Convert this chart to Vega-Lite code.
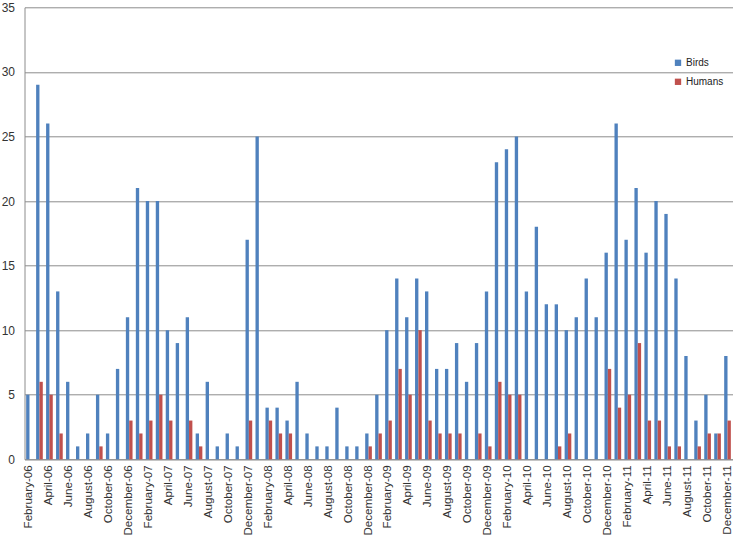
{
  "$schema": "https://vega.github.io/schema/vega-lite/v6.json",
  "autosize": "none",
  "width": 708,
  "height": 452,
  "padding": {"left": 24.5, "top": 7.3, "right": 3.5, "bottom": 75.7},
  "background": "white",
  "config": {
    "view": {"stroke": null},
    "font": "Liberation Sans"
  },
  "data": {
    "values": [
      {"m":"February-06","s":"Birds","v":5},{"m":"February-06","s":"Humans","v":0},
      {"m":"March-06","s":"Birds","v":29},{"m":"March-06","s":"Humans","v":6},
      {"m":"April-06","s":"Birds","v":26},{"m":"April-06","s":"Humans","v":5},
      {"m":"May-06","s":"Birds","v":13},{"m":"May-06","s":"Humans","v":2},
      {"m":"June-06","s":"Birds","v":6},{"m":"June-06","s":"Humans","v":0},
      {"m":"July-06","s":"Birds","v":1},{"m":"July-06","s":"Humans","v":0},
      {"m":"August-06","s":"Birds","v":2},{"m":"August-06","s":"Humans","v":0},
      {"m":"September-06","s":"Birds","v":5},{"m":"September-06","s":"Humans","v":1},
      {"m":"October-06","s":"Birds","v":2},{"m":"October-06","s":"Humans","v":0},
      {"m":"November-06","s":"Birds","v":7},{"m":"November-06","s":"Humans","v":0},
      {"m":"December-06","s":"Birds","v":11},{"m":"December-06","s":"Humans","v":3},
      {"m":"January-07","s":"Birds","v":21},{"m":"January-07","s":"Humans","v":2},
      {"m":"February-07","s":"Birds","v":20},{"m":"February-07","s":"Humans","v":3},
      {"m":"March-07","s":"Birds","v":20},{"m":"March-07","s":"Humans","v":5},
      {"m":"April-07","s":"Birds","v":10},{"m":"April-07","s":"Humans","v":3},
      {"m":"May-07","s":"Birds","v":9},{"m":"May-07","s":"Humans","v":0},
      {"m":"June-07","s":"Birds","v":11},{"m":"June-07","s":"Humans","v":3},
      {"m":"July-07","s":"Birds","v":2},{"m":"July-07","s":"Humans","v":1},
      {"m":"August-07","s":"Birds","v":6},{"m":"August-07","s":"Humans","v":0},
      {"m":"September-07","s":"Birds","v":1},{"m":"September-07","s":"Humans","v":0},
      {"m":"October-07","s":"Birds","v":2},{"m":"October-07","s":"Humans","v":0},
      {"m":"November-07","s":"Birds","v":1},{"m":"November-07","s":"Humans","v":0},
      {"m":"December-07","s":"Birds","v":17},{"m":"December-07","s":"Humans","v":3},
      {"m":"January-08","s":"Birds","v":25},{"m":"January-08","s":"Humans","v":0},
      {"m":"February-08","s":"Birds","v":4},{"m":"February-08","s":"Humans","v":3},
      {"m":"March-08","s":"Birds","v":4},{"m":"March-08","s":"Humans","v":2},
      {"m":"April-08","s":"Birds","v":3},{"m":"April-08","s":"Humans","v":2},
      {"m":"May-08","s":"Birds","v":6},{"m":"May-08","s":"Humans","v":0},
      {"m":"June-08","s":"Birds","v":2},{"m":"June-08","s":"Humans","v":0},
      {"m":"July-08","s":"Birds","v":1},{"m":"July-08","s":"Humans","v":0},
      {"m":"August-08","s":"Birds","v":1},{"m":"August-08","s":"Humans","v":0},
      {"m":"September-08","s":"Birds","v":4},{"m":"September-08","s":"Humans","v":0},
      {"m":"October-08","s":"Birds","v":1},{"m":"October-08","s":"Humans","v":0},
      {"m":"November-08","s":"Birds","v":1},{"m":"November-08","s":"Humans","v":0},
      {"m":"December-08","s":"Birds","v":2},{"m":"December-08","s":"Humans","v":1},
      {"m":"January-09","s":"Birds","v":5},{"m":"January-09","s":"Humans","v":2},
      {"m":"February-09","s":"Birds","v":10},{"m":"February-09","s":"Humans","v":3},
      {"m":"March-09","s":"Birds","v":14},{"m":"March-09","s":"Humans","v":7},
      {"m":"April-09","s":"Birds","v":11},{"m":"April-09","s":"Humans","v":5},
      {"m":"May-09","s":"Birds","v":14},{"m":"May-09","s":"Humans","v":10},
      {"m":"June-09","s":"Birds","v":13},{"m":"June-09","s":"Humans","v":3},
      {"m":"July-09","s":"Birds","v":7},{"m":"July-09","s":"Humans","v":2},
      {"m":"August-09","s":"Birds","v":7},{"m":"August-09","s":"Humans","v":2},
      {"m":"September-09","s":"Birds","v":9},{"m":"September-09","s":"Humans","v":2},
      {"m":"October-09","s":"Birds","v":6},{"m":"October-09","s":"Humans","v":0},
      {"m":"November-09","s":"Birds","v":9},{"m":"November-09","s":"Humans","v":2},
      {"m":"December-09","s":"Birds","v":13},{"m":"December-09","s":"Humans","v":1},
      {"m":"January-10","s":"Birds","v":23},{"m":"January-10","s":"Humans","v":6},
      {"m":"February-10","s":"Birds","v":24},{"m":"February-10","s":"Humans","v":5},
      {"m":"March-10","s":"Birds","v":25},{"m":"March-10","s":"Humans","v":5},
      {"m":"April-10","s":"Birds","v":13},{"m":"April-10","s":"Humans","v":0},
      {"m":"May-10","s":"Birds","v":18},{"m":"May-10","s":"Humans","v":0},
      {"m":"June-10","s":"Birds","v":12},{"m":"June-10","s":"Humans","v":0},
      {"m":"July-10","s":"Birds","v":12},{"m":"July-10","s":"Humans","v":1},
      {"m":"August-10","s":"Birds","v":10},{"m":"August-10","s":"Humans","v":2},
      {"m":"September-10","s":"Birds","v":11},{"m":"September-10","s":"Humans","v":0},
      {"m":"October-10","s":"Birds","v":14},{"m":"October-10","s":"Humans","v":0},
      {"m":"November-10","s":"Birds","v":11},{"m":"November-10","s":"Humans","v":0},
      {"m":"December-10","s":"Birds","v":16},{"m":"December-10","s":"Humans","v":7},
      {"m":"January-11","s":"Birds","v":26},{"m":"January-11","s":"Humans","v":4},
      {"m":"February-11","s":"Birds","v":17},{"m":"February-11","s":"Humans","v":5},
      {"m":"March-11","s":"Birds","v":21},{"m":"March-11","s":"Humans","v":9},
      {"m":"April-11","s":"Birds","v":16},{"m":"April-11","s":"Humans","v":3},
      {"m":"May-11","s":"Birds","v":20},{"m":"May-11","s":"Humans","v":3},
      {"m":"June-11","s":"Birds","v":19},{"m":"June-11","s":"Humans","v":1},
      {"m":"July-11","s":"Birds","v":14},{"m":"July-11","s":"Humans","v":1},
      {"m":"August-11","s":"Birds","v":8},{"m":"August-11","s":"Humans","v":0},
      {"m":"September-11","s":"Birds","v":3},{"m":"September-11","s":"Humans","v":1},
      {"m":"October-11","s":"Birds","v":5},{"m":"October-11","s":"Humans","v":2},
      {"m":"November-11","s":"Birds","v":2},{"m":"November-11","s":"Humans","v":2},
      {"m":"December-11","s":"Birds","v":8},{"m":"December-11","s":"Humans","v":3}
    ]
  },
  "mark": {"type": "bar"},
  "encoding": {
    "x": {
      "field": "m",
      "type": "nominal",
      "sort": null,
      "scale": {"paddingInner": 0.33, "paddingOuter": 0.165},
      "axis": {
        "title": null,
        "values": ["February-06","April-06","June-06","August-06","October-06","December-06","February-07","April-07","June-07","August-07","October-07","December-07","February-08","April-08","June-08","August-08","October-08","December-08","February-09","April-09","June-09","August-09","October-09","December-09","February-10","April-10","June-10","August-10","October-10","December-10","February-11","April-11","June-11","August-11","October-11","December-11"],
        "labelAngle": -90,
        "labelFontSize": 11.6,
        "labelColor": "#333333",
        "labelPadding": 5.5,
        "ticks": false,
        "domainColor": "#8c8c8c",
        "grid": false
      }
    },
    "xOffset": {"field": "s", "type": "nominal", "sort": ["Birds","Humans"], "scale": {"paddingInner": 0, "paddingOuter": 0}},
    "y": {
      "field": "v",
      "type": "quantitative",
      "scale": {"domain": [0, 35], "nice": false},
      "axis": {
        "title": null,
        "values": [0,5,10,15,20,25,30,35],
        "labelFontSize": 12,
        "labelColor": "#333333",
        "labelPadding": 10,
        "ticks": false,
        "domainColor": "#8c8c8c",
        "gridColor": "#8c8c8c",
        "gridWidth": 1
      }
    },
    "color": {
      "field": "s",
      "type": "nominal",
      "scale": {"domain": ["Birds","Humans"], "range": ["#4F81BD","#C0504D"]},
      "legend": {
        "title": null,
        "orient": "none",
        "legendX": 648.5,
        "legendY": 50.5,
        "padding": 0,
        "symbolType": "square",
        "symbolSize": 40,
        "symbolStrokeWidth": 0,
        "labelFontSize": 10,
        "labelColor": "#222222",
        "labelOffset": 3,
        "rowPadding": 9
      }
    }
  }
}
